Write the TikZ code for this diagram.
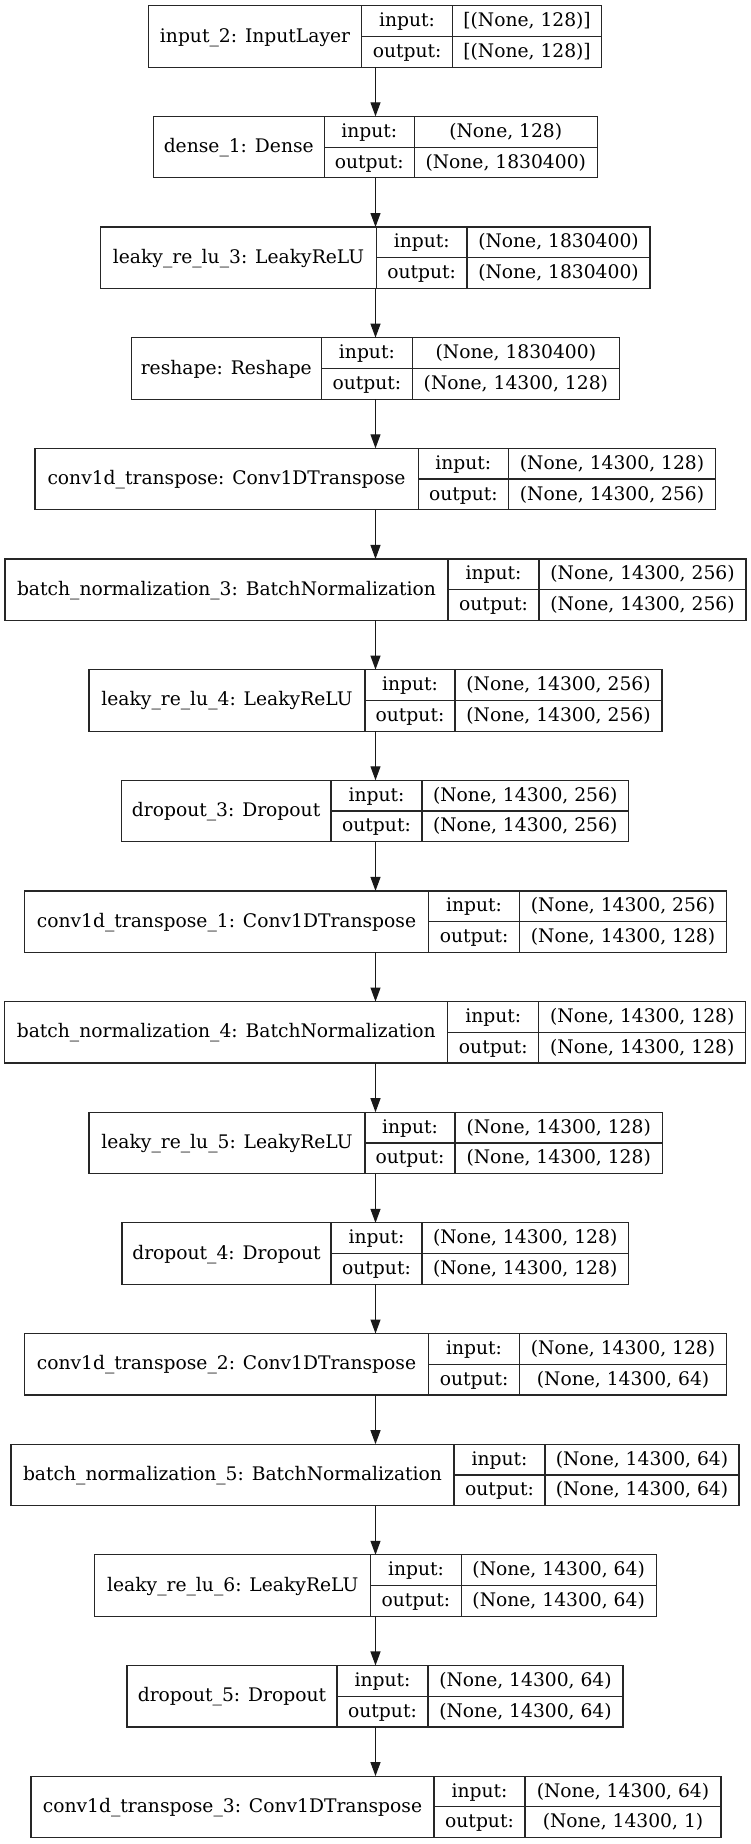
\documentclass[tikz,border=0pt]{standalone}
\usepackage{fontspec}
\setmainfont{DejaVu Serif}
\usetikzlibrary{arrows.meta}

% One Keras layer drawn as a record: name | (input:/output:) | (shape/shape)
% #1 node name, #2 row index, #3 left, #4 first divider, #5 second divider,
% #6 right, #7 layer label, #8 input shape, #9 output shape
\newcommand\kerasLayer[9]{%
  \pgfmathsetmacro\ltop{-(5.7+110.65*#2)}%
  \pgfmathsetmacro\lmid{\ltop-30.75}%
  \pgfmathsetmacro\wname{#4-#3}%
  \pgfmathsetmacro\wkey{#5-#4}%
  \pgfmathsetmacro\wval{#6-#5}%
  \pgfmathsetmacro\wall{#6-#3}%
  \pgfmathsetmacro\xc{(#3+#6)/2}%
  \node[frame, minimum width=\wall pt, minimum height=61.5pt] (#1) at (\xc,\lmid) {};
  \node[cell, minimum width=\wname pt, minimum height=61.5pt] (#1-name) at (#3,\ltop) {#7};
  \node[cell, minimum width=\wkey pt, minimum height=30.75pt] (#1-ik) at (#4,\ltop) {input:};
  \node[cell, minimum width=\wkey pt, minimum height=30.75pt] (#1-ok) at (#4,\lmid) {output:};
  \node[cell, minimum width=\wval pt, minimum height=30.75pt] (#1-iv) at (#5,\ltop) {#8};
  \node[cell, minimum width=\wval pt, minimum height=30.75pt] (#1-ov) at (#5,\lmid) {#9};
}

\begin{document}
\begin{tikzpicture}[x=1pt,y=1pt,
  frame/.style={inner sep=0pt, outer sep=0pt},
  cell/.style={draw=black!85, line width=1.2pt, inner sep=0pt, outer sep=0pt,
    anchor=north west, text height=15pt, text depth=3.8pt,
    font=\fontsize{18.7}{22}\selectfont},
  flow/.style={draw=black!90, line width=1.1pt, -{Triangle[length=14pt,width=10pt]}}]
\useasboundingbox (0,0) rectangle (751,-1844);
\fill[white] (0,0) rectangle (751,-1844);

\kerasLayer{in2}{0}{148.5}{361.6}{452.6}{601.5}{input\_2: InputLayer}{[(None, 128)]}{[(None, 128)]}
\kerasLayer{dense1}{1}{153.3}{324.2}{414.3}{597.2}{dense\_1: Dense}{(None, 128)}{(None, 1830400)}
\kerasLayer{lrelu3}{2}{100.6}{376.4}{467}{650}{leaky\_re\_lu\_3: LeakyReLU}{(None, 1830400)}{(None, 1830400)}
\kerasLayer{reshape}{3}{131.2}{321.4}{412.4}{619.3}{reshape: Reshape}{(None, 1830400)}{(None, 14300, 128)}
\kerasLayer{conv0}{4}{35}{418.1}{508.6}{715.5}{conv1d\_transpose: Conv1DTranspose}{(None, 14300, 128)}{(None, 14300, 256)}
\kerasLayer{bn3}{5}{5}{448}{539}{746}{batch\_normalization\_3: BatchNormalization}{(None, 14300, 256)}{(None, 14300, 256)}
\kerasLayer{lrelu4}{6}{89}{365}{455}{662}{leaky\_re\_lu\_4: LeakyReLU}{(None, 14300, 256)}{(None, 14300, 256)}
\kerasLayer{drop3}{7}{121.2}{331}{422}{628.4}{dropout\_3: Dropout}{(None, 14300, 256)}{(None, 14300, 256)}
\kerasLayer{conv1}{8}{24.4}{428.6}{519.6}{726.5}{conv1d\_transpose\_1: Conv1DTranspose}{(None, 14300, 256)}{(None, 14300, 128)}
\kerasLayer{bn4}{9}{4.8}{447.8}{538.8}{745.7}{batch\_normalization\_4: BatchNormalization}{(None, 14300, 128)}{(None, 14300, 128)}
\kerasLayer{lrelu5}{10}{89}{365}{455}{662.4}{leaky\_re\_lu\_5: LeakyReLU}{(None, 14300, 128)}{(None, 14300, 128)}
\kerasLayer{drop4}{11}{122}{331}{422}{628.4}{dropout\_4: Dropout}{(None, 14300, 128)}{(None, 14300, 128)}
\kerasLayer{conv2}{12}{24.4}{428.6}{519.6}{726.5}{conv1d\_transpose\_2: Conv1DTranspose}{(None, 14300, 128)}{(None, 14300, 64)}
\kerasLayer{bn5}{13}{11}{454}{545}{739}{batch\_normalization\_5: BatchNormalization}{(None, 14300, 64)}{(None, 14300, 64)}
\kerasLayer{lrelu6}{14}{94.8}{370.7}{461.2}{656.1}{leaky\_re\_lu\_6: LeakyReLU}{(None, 14300, 64)}{(None, 14300, 64)}
\kerasLayer{drop5}{15}{127}{337}{428}{623}{dropout\_5: Dropout}{(None, 14300, 64)}{(None, 14300, 64)}
\kerasLayer{conv3}{16}{31}{434}{525}{721}{conv1d\_transpose\_3: Conv1DTranspose}{(None, 14300, 64)}{(None, 14300, 1)}

% common vertical axis of all connectors
\coordinate (axis) at (375.5,0);

% data flow between consecutive layers
\foreach \a/\b in {in2/dense1, dense1/lrelu3, lrelu3/reshape, reshape/conv0,
  conv0/bn3, bn3/lrelu4, lrelu4/drop3, drop3/conv1, conv1/bn4, bn4/lrelu5,
  lrelu5/drop4, drop4/conv2, conv2/bn5, bn5/lrelu6, lrelu6/drop5, drop5/conv3}
  \draw[flow] (\a.south -| axis) -- (\b.north -| axis);
\end{tikzpicture}
\end{document}
